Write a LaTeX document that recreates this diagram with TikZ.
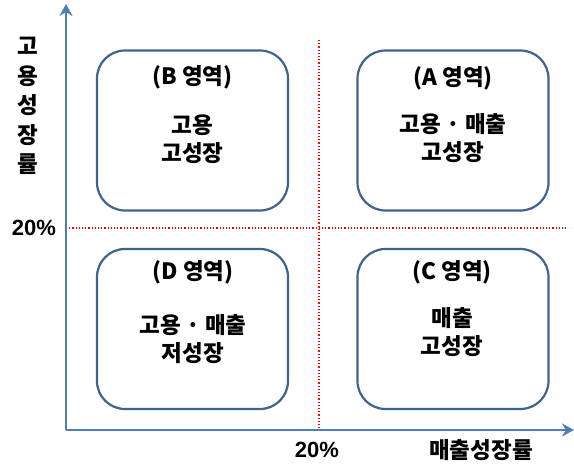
\documentclass[tikz,border=0pt]{standalone}
\usepackage{fontspec}
\setmainfont{Liberation Sans}
\newfontfamily\kr{Noto Sans CJK KR Black}
\usetikzlibrary{arrows.meta}
\definecolor{axisblue}{HTML}{4F7DB8}
\definecolor{boxblue}{HTML}{41628F}
\begin{document}
\begin{tikzpicture}[x=1pt,y=-1pt,
  quad/.style={draw=boxblue,line width=2.2pt,rounded corners=28pt,minimum width=191pt,minimum height=160pt},
  axis/.style={draw=axisblue,line width=2.6pt,-{Stealth[length=12pt,width=13pt,inset=4pt]}},
  guide/.style={draw=red,line width=1.2pt,dotted},
  lab/.style={font=\kr\fontsize{22.5}{28}\selectfont,align=center,inner sep=0pt},
  num/.style={font=\bfseries\fontsize{22}{24}\selectfont,inner sep=0pt}]
\useasboundingbox (0,0) rectangle (574,466);
\coordinate (o) at (66,430);
\coordinate (ytip) at (66,4);
\coordinate (xtip) at (574,430);
\coordinate (vtop) at (319,40);
\coordinate (vbot) at (319,430);
\coordinate (hl) at (66,228);
\coordinate (hr) at (566,228);
\draw[guide] (vtop) -- (vbot);
\draw[guide] (hl) -- (hr);
\draw[axis] (o) -- (ytip);
\draw[axis] (o) -- (xtip);
\node[quad] (B) at (192.5,130.5) {};
\node[quad] (A) at (453,130.5) {};
\node[quad] (D) at (192.5,329) {};
\node[quad] (C) at (453,329) {};
\node[lab] (Bt) at (192.5,77) {(B 영역)};
\node[lab] (Bb) at (192.5,139) {고용\\고성장};
\node[lab] (At) at (453,78) {(A 영역)};
\node[lab] (Ab) at (453,138) {고용 · 매출\\고성장};
\node[lab] (Dt) at (193,272) {(D 영역)};
\node[lab] (Db) at (193,339) {고용 · 매출\\저성장};
\node[lab] (Ct) at (452,272) {(C 영역)};
\node[lab] (Cb) at (452,332) {매출\\고성장};
\node[num] (y20) at (34,228) {20\%};
\node[num] (x20) at (317,450) {20\%};
\node[lab] (xl) at (481,450) {매출성장률};
\node[lab,font=\kr\fontsize{22.5}{29.5}\selectfont] (yl) at (28,106) {고\\용\\성\\장\\률};
\end{tikzpicture}
\end{document}
